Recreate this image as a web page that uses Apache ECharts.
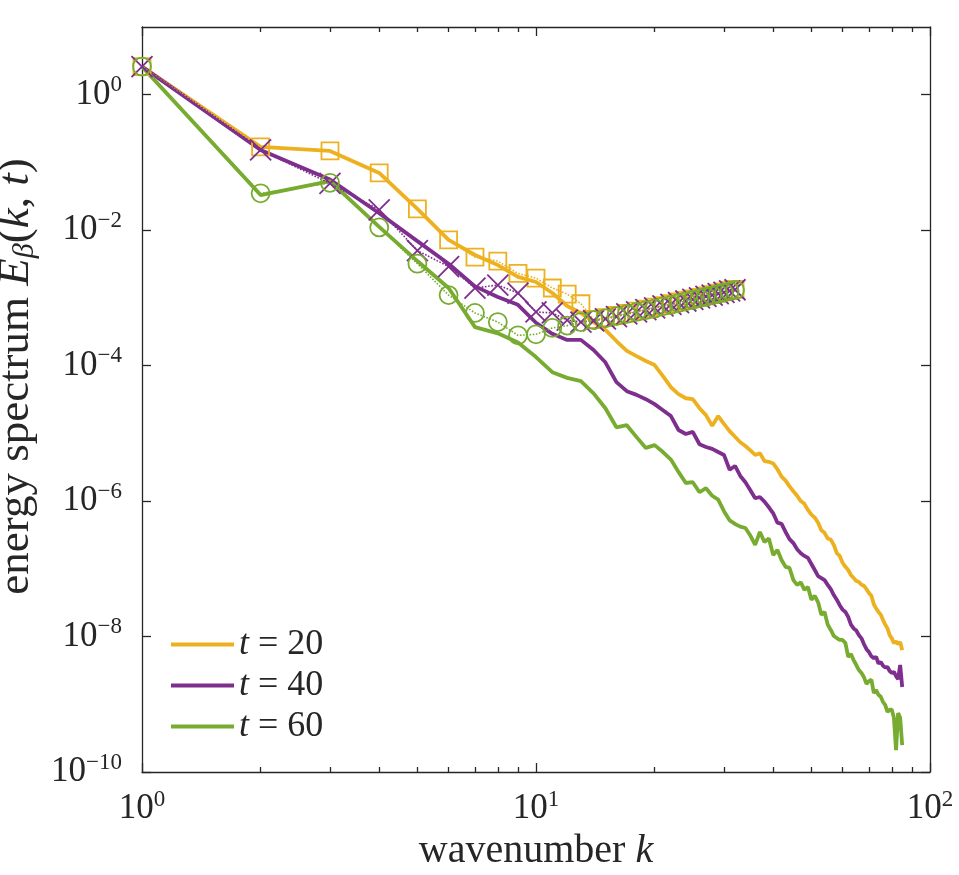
<!DOCTYPE html>
<html>
<head>
<meta charset="utf-8">
<script src="https://cdn.jsdelivr.net/npm/echarts@6/dist/echarts.min.js"></script>
<style>
html,body{margin:0;padding:0;background:#fff;}
#chart{width:959px;height:875px;}
</style>
</head>
<body>
<div id="chart"></div>
<script>
// wavenumbers for the solid spectra
const kSolid = [1,2,3,4,5,6,7,8,9,10,11,12,13,14,15,16,17,18,19,20,21,22,23,24,25,26,27,28,29,30,
31,32,33,34,35,36,37,38,39,40,41,42,43,44,45,46,47,48,49,50,51,52,53,54,55,56,57,58,59,60,
61,62,63,64,65,66,67,68,69,70,71,72,73,74,75,76,77,78,79,80,81,82,83,84,85];
// wavenumbers for the marker (dotted) series
const kMark = [1,2,3,4,5,6,7,8,9,10,11,12,13,14,15,16,17,18,19,20,21,22,23,24,25,26,27,28,29,30,31,32];

const E20 = [2.6,0.17,0.148,0.07,0.0206,7.2e-3,4.3e-3,3.06e-3,2.04e-3,1.72e-3,1.18e-3,7.6e-4,6.0e-4,4.4e-4,3.37e-4,2.31e-4,1.65e-4,1.38e-4,1.17e-4,1.02e-4,
7.0e-5,4.8e-5,3.8e-5,3.3e-5,3.2e-5,2.35e-5,1.86e-5,1.29e-5,1.8e-5,1.38e-5,1.08e-5,8.9e-6,7.4e-6,6.5e-6,5.6e-6,4.8e-6,5.1e-6,3.9e-6,3.8e-6,3.6e-6,
2.95e-6,2.3e-6,2.0e-6,1.65e-6,1.4e-6,1.2e-6,1.0e-6,9.1e-7,7.4e-7,6.3e-7,5.7e-7,4.8e-7,3.7e-7,3.4e-7,2.8e-7,2.7e-7,2.25e-7,1.7e-7,1.55e-7,1.23e-7,
1.07e-7,9.6e-8,8.1e-8,7.3e-8,6.6e-8,6.4e-8,5.8e-8,5.6e-8,5.0e-8,4.4e-8,4.0e-8,3.0e-8,2.6e-8,2.3e-8,2.1e-8,1.75e-8,1.5e-8,1.32e-8,1.05e-8,9.4e-9,
8.0e-9,8.5e-9,7.7e-9,8.3e-9,6.3e-9];
const E40 = [2.6,0.153,0.056,0.0178,6.9e-3,3.2e-3,1.48e-3,1.03e-3,7.9e-4,4.3e-4,2.95e-4,2.4e-4,2.4e-4,1.7e-4,1.12e-4,5.7e-5,4.2e-5,3.7e-5,3.2e-5,2.7e-5,
2.2e-5,1.8e-5,1.12e-5,9.8e-6,1.05e-5,6.9e-6,6.3e-6,5.9e-6,5.3e-6,4.8e-6,2.9e-6,3.3e-6,2.35e-6,1.9e-6,1.45e-6,1.1e-6,1.15e-6,9.8e-7,8.1e-7,6.6e-7,
4.8e-7,4.6e-7,3.5e-7,2.75e-7,2.4e-7,1.95e-7,1.7e-7,1.55e-7,1.45e-7,1.18e-7,9.6e-8,7.8e-8,7.3e-8,6.8e-8,5.8e-8,5.0e-8,4.1e-8,3.5e-8,2.9e-8,2.5e-8,
2.3e-8,1.95e-8,1.5e-8,1.32e-8,1.23e-8,1.05e-8,9.4e-9,7.7e-9,6.5e-9,5.9e-9,5.1e-9,4.8e-9,5.0e-9,4.0e-9,4.2e-9,3.7e-9,3.5e-9,3.55e-9,3.1e-9,2.9e-9,
3.0e-9,2.6e-9,2.35e-9,3.8e-9,1.8e-9];
const E60 = [2.6,0.033,0.053,0.0112,3.5e-3,1.4e-3,3.7e-4,3.0e-4,2.2e-4,1.34e-4,8.0e-5,6.6e-5,5.9e-5,3.9e-5,2.35e-5,1.23e-5,1.32e-5,8.8e-6,6.1e-6,6.7e-6,
5.3e-6,4.1e-6,2.7e-6,1.85e-6,1.9e-6,1.35e-6,1.55e-6,1.2e-6,1.05e-6,7.1e-7,5.2e-7,4.6e-7,4.2e-7,4.0e-7,3.1e-7,2.25e-7,3.5e-7,2.5e-7,2.8e-7,1.6e-7,
1.9e-7,1.35e-7,1.07e-7,1.03e-7,6.8e-8,5.8e-8,6.3e-8,4.9e-8,5.4e-8,3.5e-8,4.0e-8,3.2e-8,2.1e-8,2.3e-8,1.5e-8,1.25e-8,1.02e-8,9.5e-9,8.9e-9,8.9e-9,
8.0e-9,5.0e-9,5.5e-9,4.5e-9,3.8e-9,3.2e-9,2.9e-9,2.5e-9,2.0e-9,2.2e-9,2.3e-9,1.47e-9,1.62e-9,1.38e-9,1.29e-9,1.08e-9,9.7e-10,7.7e-10,8.3e-10,8.3e-10,
6.3e-10,2.1e-10,7.4e-10,6.3e-10,2.5e-10];

const M20 = [2.6,0.17,0.148,0.07,0.0206,7.2e-3,4.0e-3,3.5e-3,2.3e-3,1.96e-3,1.4e-3,1.14e-3,8.2e-4,4.8e-4,5.1e-4,5.5e-4,5.9e-4,6.4e-4,6.8e-4,7.3e-4,
7.7e-4,8.2e-4,8.7e-4,9.2e-4,9.7e-4,1.02e-3,1.07e-3,1.12e-3,1.18e-3,1.23e-3,1.29e-3,1.34e-3];
const M40 = [2.6,0.153,0.049,0.02,5.0e-3,2.9e-3,1.4e-3,1.55e-3,1.18e-3,6.2e-4,6.0e-4,4.7e-4,4.4e-4,4.6e-4,4.9e-4,5.3e-4,5.8e-4,6.2e-4,6.7e-4,7.1e-4,
7.6e-4,8.0e-4,8.5e-4,9.0e-4,9.5e-4,1.0e-3,1.05e-3,1.1e-3,1.16e-3,1.21e-3,1.27e-3,1.32e-3];
const M60 = [2.6,0.035,0.05,0.011,3.2e-3,1.1e-3,6.0e-4,4.4e-4,2.8e-4,2.9e-4,3.6e-4,3.9e-4,4.4e-4,4.7e-4,5.0e-4,5.4e-4,5.8e-4,6.2e-4,6.6e-4,7.0e-4,
7.5e-4,7.9e-4,8.4e-4,8.9e-4,9.4e-4,9.9e-4,1.04e-3,1.09e-3,1.15e-3,1.2e-3,1.26e-3,1.31e-3];

const seriesNames = ['t = 20', 't = 40', 't = 60'];
const legendLabels = {'t = 20': '{i|t}{n| = 20}', 't = 40': '{i|t}{n| = 40}', 't = 60': '{i|t}{n| = 60}'};
const xMajorTicks = [1, 10, 100];
const xMinorTicks = [2,3,4,5,6,7,8,9,20,30,40,50,60,70,80,90];
const yMajorTicks = [1e-10, 1e-8, 1e-6, 1e-4, 1e-2, 1];

const colors = ['#EDB120', '#7E2F8E', '#77AC30'];
const axisColor = '#262626';
const serif = "'Liberation Serif', 'DejaVu Serif', serif";

function zip(xs, ys) { return xs.map((x, i) => [x, ys[i]]); }
function powLabel(v) {
  const e = Math.round(Math.log10(v));
  return '{b|10}{s|' + (e < 0 ? '\u2212' + (-e) : String(e)) + '}';
}
const tickRich = {
  b: {fontSize: 35, fontFamily: serif, color: axisColor},
  s: {fontSize: 23, fontFamily: serif, color: axisColor, padding: [0, 0, 19, 0]}
};

function xAxisDef(pos, major, showLabel) {
  return {
    type: 'log', logBase: 10, min: 1, max: 100, position: pos,
    axisLine: {show: major, onZero: false, lineStyle: {color: axisColor, width: 1.3}},
    axisTick: {show: true, inside: true, length: major ? 9 : 5, customValues: major ? xMajorTicks : xMinorTicks,
               lineStyle: {color: axisColor, width: 1.3}},
    axisLabel: {show: showLabel, customValues: xMajorTicks, formatter: powLabel, rich: tickRich, margin: 16},
    minorTick: {show: false}, splitLine: {show: false}
  };
}

const chart = echarts.init(document.getElementById('chart'), null, {renderer: 'canvas'});
const xAxes = [xAxisDef('bottom', true, true), xAxisDef('bottom', false, false), xAxisDef('top', true, false), xAxisDef('top', false, false)];
xAxes[0].name = '{n|wavenumber }{i|k}';
xAxes[0].nameLocation = 'middle';
xAxes[0].nameGap = 53;
xAxes[0].nameTextStyle = {
  rich: {
    n: {fontSize: 40, fontFamily: serif, color: axisColor},
    i: {fontSize: 40, fontFamily: serif, fontStyle: 'italic', color: axisColor}
  }
};

function yAxisDef(pos, showLabel) {
  return {
    type: 'log', logBase: 10, min: 1e-10, max: 10, position: pos,
    axisLine: {show: true, onZero: false, lineStyle: {color: axisColor, width: 1.3}},
    axisTick: {show: true, inside: true, length: 9, customValues: yMajorTicks, lineStyle: {color: axisColor, width: 1.3}},
    axisLabel: {show: showLabel, customValues: yMajorTicks, formatter: powLabel, rich: tickRich, margin: 20},
    minorTick: {show: false}, splitLine: {show: false}
  };
}
const yAxes = [yAxisDef('left', true), yAxisDef('right', false)];
yAxes[0].name = '{n|energy spectrum }{i|E}{sub|\u03b2}{n|(}{i|k}{n|, }{i|t}{n|)}';
yAxes[0].nameLocation = 'middle';
yAxes[0].nameGap = 75;
yAxes[0].nameRotate = 90;
yAxes[0].nameTextStyle = {
  padding: [0, 0, 0, 46],
  rich: {
    n: {fontSize: 45, fontFamily: serif, color: axisColor},
    i: {fontSize: 45, fontFamily: serif, fontStyle: 'italic', color: axisColor},
    sub: {fontSize: 30, fontFamily: serif, fontStyle: 'italic', color: axisColor, padding: [17, 0, 0, 0]}
  }
};

const solidData = [E20, E40, E60];
const markData = [M20, M40, M60];
const markSymbols = ['rect', 'path://M0,0L10,10M10,0L0,10', 'circle'];
const markSizes = [17, 21, 18];

const series = [];
for (let i = 0; i < 3; i++) {
  series.push({
    name: seriesNames[i], type: 'line', xAxisIndex: 0, yAxisIndex: 0,
    data: zip(kSolid, solidData[i]), symbol: 'none', z: 3,
    lineStyle: {color: colors[i], width: 3.8}, itemStyle: {color: colors[i]}
  });
}
for (let i = 0; i < 3; i++) {
  series.push({
    name: 'markers ' + seriesNames[i], type: 'line', xAxisIndex: 0, yAxisIndex: 0,
    data: zip(kMark, markData[i]), symbol: markSymbols[i], symbolSize: markSizes[i], showSymbol: true, z: 4,
    lineStyle: {color: colors[i], width: 1.6, type: 'dotted'},
    itemStyle: {color: 'rgba(0,0,0,0)', borderColor: colors[i], borderWidth: 1.8}
  });
}

chart.setOption({
  animation: false,
  backgroundColor: '#ffffff',
  grid: {left: 142, right: 29, top: 27, bottom: 103, containLabel: false, outerBoundsMode: 'none'},
  xAxis: xAxes,
  yAxis: yAxes,
  legend: {
    data: seriesNames, orient: 'vertical', left: 166, top: 621,
    icon: 'rect', itemWidth: 63, itemHeight: 4, itemGap: 4,
    formatter: name => legendLabels[name],
    textStyle: {
      lineHeight: 37,
      rich: {
        i: {fontSize: 36, fontFamily: serif, fontStyle: 'italic', color: axisColor},
        n: {fontSize: 36, fontFamily: serif, color: axisColor}
      }
    }
  },
  series: series
});
</script>
</body>
</html>
